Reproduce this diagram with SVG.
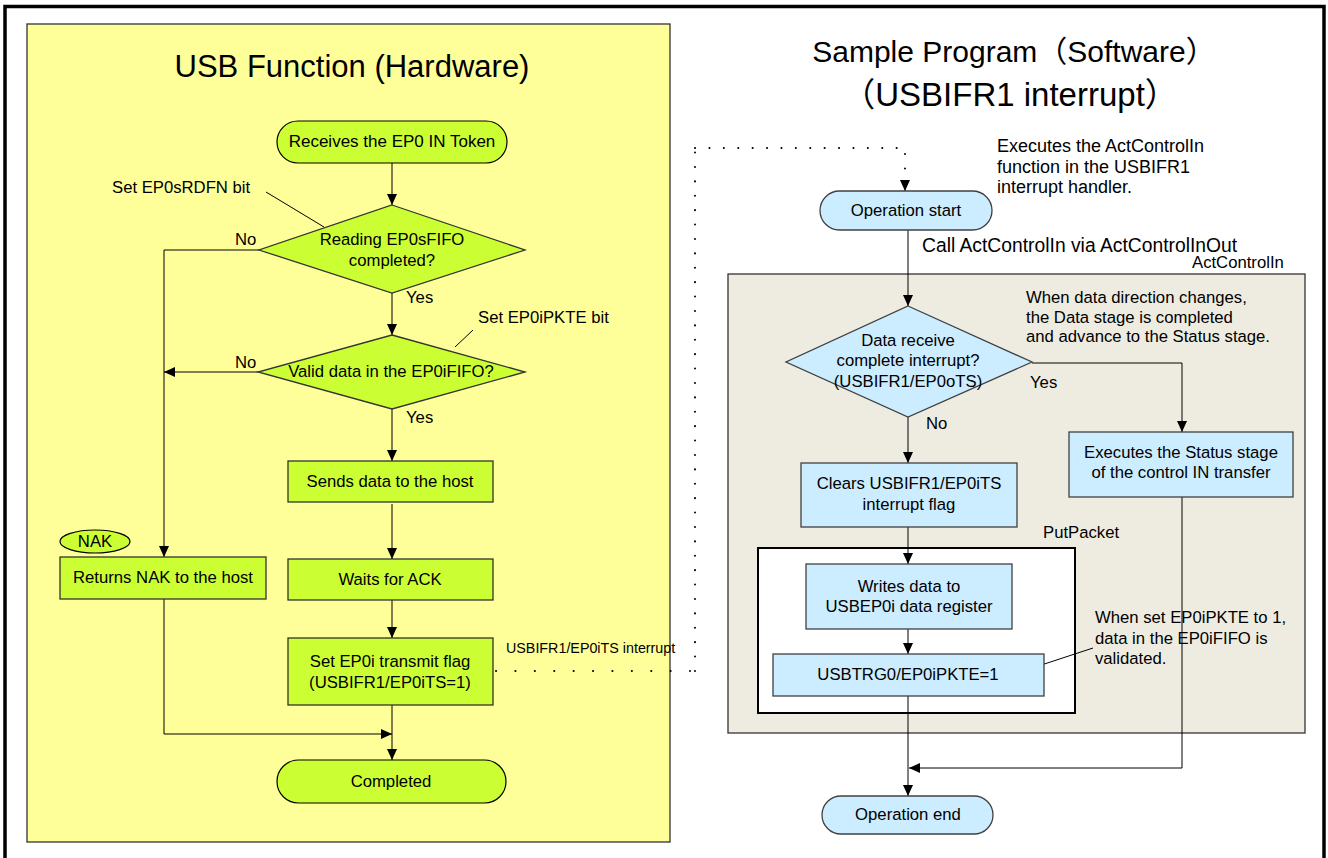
<svg xmlns="http://www.w3.org/2000/svg" width="1328" height="858" viewBox="0 0 1328 858">
  <style>
    text { font-family: "Liberation Sans", Arial, "Noto Sans CJK JP", sans-serif; fill: #000; }
    .t { font-size: 16.7px; }
    .c { text-anchor: middle; }
    .lime { fill: #ccff33; stroke: #333; stroke-width: 1.3; }
    .term { stroke: #000; stroke-width: 1.2; }
    .blue { fill: #ccecff; stroke: #404040; stroke-width: 1.3; }
    .ln { fill: none; stroke: #000; stroke-width: 1; }
    .arr { marker-end: url(#ah); }
    .dot { fill: none; stroke: #000; stroke-width: 2; stroke-linecap: round; }
  </style>
  <defs>
    <marker id="ah" markerUnits="userSpaceOnUse" markerWidth="12" markerHeight="10" refX="11" refY="5" orient="auto">
      <path d="M0,0 L11,5 L0,10 z" fill="#000"/>
    </marker>
  </defs>

  <!-- page frame -->
  <rect x="5" y="6.5" width="1319" height="900" fill="#fff" stroke="#000" stroke-width="3.5"/>

  <!-- hardware side panel -->
  <g id="hw-panel">
    <rect x="27" y="24" width="643" height="818" fill="#ffff99" stroke="#333" stroke-width="1.3"/>
    <text x="352" y="77" class="c" style="font-size:31px">USB Function (Hardware)</text>
  </g>

  <!-- software side panel -->
  <g id="sw-title">
    <text x="1014" y="62" class="c" style="font-size:30px">Sample Program（Software）</text>
    <text x="1010" y="106" class="c" style="font-size:33px">（USBIFR1 interrupt）</text>
  </g>
  <g id="act-control-in">
    <rect x="728" y="274" width="577" height="459" fill="#eeece1" stroke="#333" stroke-width="1.3"/>
    <text x="1192" y="268" class="t">ActControlIn</text>
  </g>
  <g id="put-packet">
    <rect x="758" y="548" width="317" height="165" fill="#fff" stroke="#000" stroke-width="2"/>
    <text x="1043" y="538" class="t">PutPacket</text>
  </g>

  <!-- connectors -->
  <g id="connectors">
    <path class="ln arr" d="M392,163 V205"/>
    <path class="ln arr" d="M259,250 H164 V557"/>
    <path class="ln arr" d="M392,293 V335"/>
    <path class="ln arr" d="M258,372 H164"/>
    <path class="ln arr" d="M392,409 V461"/>
    <path class="ln arr" d="M392,504 V559"/>
    <path class="ln arr" d="M392,600 V638"/>
    <path class="ln arr" d="M392,705 V760"/>
    <path class="ln arr" d="M164,599 V734 H392"/>
    <path class="ln" d="M266,192 L324,227"/>
    <path class="ln" d="M473,330 L455,347"/>

    <path class="dot" d="M496,671 H690" stroke-dasharray="0.1 19.3"/>
    <path class="dot" d="M695,671 V150" stroke-dasharray="0.1 14.3"/>
    <path class="dot" d="M695,148 H905 V178" stroke-dasharray="0.1 14.3"/>
    <path class="ln arr" d="M905,180 V191"/>

    <path class="ln arr" d="M908,230 V306"/>
    <path class="ln arr" d="M1032,363 H1182 V432"/>
    <path class="ln arr" d="M908,417 V463"/>
    <path class="ln arr" d="M908,527 V564"/>
    <path class="ln arr" d="M908,629 V654"/>
    <path class="ln arr" d="M908,696 V796"/>
    <path class="ln arr" d="M1182,497 V768 H909"/>
    <path class="ln" d="M1020,672 L1093,648"/>
  </g>

  <!-- hardware flow -->
  <g id="receive-token">
    <rect x="277" y="121" width="230" height="42" rx="21" class="lime term"/>
    <text x="392" y="147" class="c" style="font-size:17px">Receives the EP0 IN Token</text>
  </g>
  <g id="note-rdfn">
    <text x="112" y="193" class="t">Set EP0sRDFN bit</text>
  </g>
  <g id="dec-read-done">
    <polygon points="392,205 525,250 392,293 259,250" class="lime"/>
    <text x="392" y="245" class="t c">Reading EP0sFIFO</text>
    <text x="392" y="266" class="t c">completed?</text>
    <text x="235" y="245" class="t">No</text>
    <text x="406" y="303" class="t">Yes</text>
  </g>
  <g id="note-pkte">
    <text x="478" y="323" class="t">Set EP0iPKTE bit</text>
  </g>
  <g id="dec-valid-data">
    <polygon points="392,335 525,372 392,409 258,372" class="lime"/>
    <text x="391" y="377" class="t c">Valid data in the EP0iFIFO?</text>
    <text x="235" y="368" class="t">No</text>
    <text x="406" y="423" class="t">Yes</text>
  </g>
  <g id="send-data">
    <rect x="288" y="461" width="205" height="41" class="lime"/>
    <text x="390" y="487" class="t c">Sends data to the host</text>
  </g>
  <g id="nak-tag">
    <ellipse cx="95" cy="541.5" rx="35" ry="11.5" class="lime term"/>
    <text x="95" y="547" class="t c">NAK</text>
  </g>
  <g id="return-nak">
    <rect x="60" y="557" width="206" height="42" class="lime"/>
    <text x="163" y="583" class="t c">Returns NAK to the host</text>
  </g>
  <g id="wait-ack">
    <rect x="288" y="559" width="205" height="41" class="lime"/>
    <text x="390" y="585" class="t c">Waits for ACK</text>
  </g>
  <g id="set-flag">
    <rect x="288" y="638" width="205" height="67" class="lime"/>
    <text x="390" y="667" class="t c">Set EP0i transmit flag</text>
    <text x="390" y="688" class="t c">(USBIFR1/EP0iTS=1)</text>
    <text x="506" y="653" style="font-size:14.3px">USBIFR1/EP0iTS interrupt</text>
  </g>
  <g id="hw-completed">
    <rect x="277" y="760" width="229" height="43" rx="21.5" class="lime term"/>
    <text x="391" y="787" class="t c">Completed</text>
  </g>

  <!-- software flow -->
  <g id="op-start">
    <rect x="820" y="191" width="172" height="39" rx="19.5" class="blue term"/>
    <text x="906" y="216" class="t c">Operation start</text>
  </g>
  <g id="note-handler">
    <text x="997" y="152" style="font-size:18px">Executes the ActControlIn</text>
    <text x="997" y="173" style="font-size:18px">function in the USBIFR1</text>
    <text x="997" y="193" style="font-size:18px">interrupt handler.</text>
  </g>
  <g id="note-call">
    <text x="922" y="252" style="font-size:19.3px">Call ActControlIn via ActControlInOut</text>
  </g>
  <g id="note-direction">
    <text x="1026" y="303" class="t">When data direction changes,</text>
    <text x="1026" y="323" class="t">the Data stage is completed</text>
    <text x="1026" y="342" class="t">and advance to the Status stage.</text>
  </g>
  <g id="dec-receive">
    <polygon points="908,306 1032,362 908,417 786,362" class="blue"/>
    <text x="908" y="346" class="t c">Data receive</text>
    <text x="908" y="366" class="t c">complete interrupt?</text>
    <text x="908" y="387" class="t c">(USBIFR1/EP0oTS)</text>
    <text x="1030" y="388" class="t">Yes</text>
    <text x="926" y="429" class="t">No</text>
  </g>
  <g id="status-stage">
    <rect x="1069" y="432" width="224" height="65" class="blue"/>
    <text x="1181" y="458" class="t c">Executes the Status stage</text>
    <text x="1181" y="478" class="t c">of the control IN transfer</text>
  </g>
  <g id="clear-flag">
    <rect x="801" y="463" width="216" height="64" class="blue"/>
    <text x="909" y="489" class="t c">Clears USBIFR1/EP0iTS</text>
    <text x="909" y="510" class="t c">interrupt flag</text>
  </g>
  <g id="write-data">
    <rect x="806" y="564" width="206" height="65" class="blue"/>
    <text x="909" y="592" class="t c">Writes data to</text>
    <text x="909" y="612" class="t c">USBEP0i data register</text>
  </g>
  <g id="set-pkte">
    <rect x="773" y="654" width="271" height="42" class="blue"/>
    <text x="908" y="680" class="t c">USBTRG0/EP0iPKTE=1</text>
  </g>
  <g id="note-validate">
    <text x="1095" y="623" class="t">When set EP0iPKTE to 1,</text>
    <text x="1095" y="644" class="t">data in the EP0iFIFO is</text>
    <text x="1095" y="664" class="t">validated.</text>
  </g>
  <g id="op-end">
    <rect x="822" y="796" width="171" height="38" rx="19" class="blue term"/>
    <text x="908" y="820" class="t c">Operation end</text>
  </g>
</svg>
